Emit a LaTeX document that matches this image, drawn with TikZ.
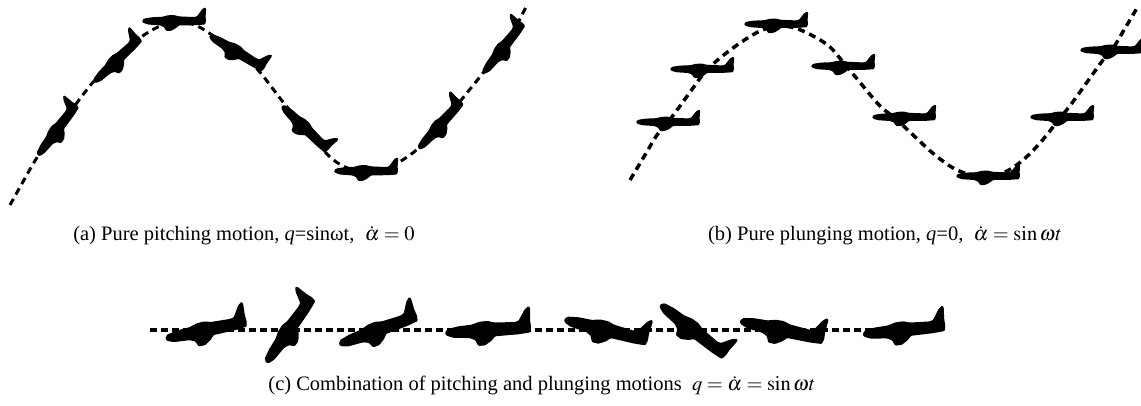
\documentclass[tikz,border=0pt]{standalone}
\usepackage{mathptmx}
\usepackage{fontspec}
\setmainfont{Liberation Serif}
\begin{document}
\begin{tikzpicture}[x=1pt,y=-1pt,
  % aircraft silhouette: nose to the left, fin up, about 64pt long
  aircraft/.pic={
    \begin{scope}[x=1pt,y=1pt]
      \fill[rounded corners=0.9pt]
        (-32,0) -- (-30,2.2) -- (-22,3.4) -- (-12,3.8) -- (-6,5.2) -- (0,5.4)
        -- (5,4.2) -- (20,3.6) -- (23,4.2) -- (28,10.5) -- (31,12.5) -- (32.2,11.5)
        -- (31.6,4) -- (32,0) -- (31,-3.2) -- (22,-3.8) -- (5,-4) -- (2,-6.5)
        -- (-3,-9) -- (-8,-9) -- (-10,-5.5) -- (-14,-4) -- (-26,-3.2) -- (-31,-1.6)
        -- cycle;
    \end{scope}
  },
  pathA/.style={line width=3pt, dash pattern=on 7pt off 5pt},
  pathB/.style={line width=3.5pt, dash pattern=on 7pt off 5pt},
  pathC/.style={line width=3.4pt, dash pattern=on 7pt off 4pt},
  caption/.style={font=\fontsize{20.5}{24}\selectfont, inner sep=0pt, anchor=base}
]
\useasboundingbox[fill=white] (0,0) rectangle (1141,405);

% (a) pure pitching: attitude follows the path
\draw[pathA] plot[smooth, tension=0.55] coordinates {
  (10,205) (24,180) (38,156) (57,130) (76,104) (95,80) (117,60) (140,38)
  (158,27) (174,22) (195,25) (215,37) (237,52) (258,70) (283,102) (305,128)
  (328,155) (345,167) (366,172) (388,168) (410,155) (425,142) (440,125)
  (462,99) (483,73) (503,48) (515,28) (526,7)};
\pic[rotate=53, yscale=1.25] at (57,130) {aircraft};
\pic[rotate=44, yscale=1.25] at (117,60) {aircraft};
\pic[yscale=1.1] at (174,21) {aircraft};
\pic[rotate=-31, yscale=1.25] at (237,52) {aircraft};
\pic[rotate=-44, yscale=1.25] at (305,128) {aircraft};
\pic[yscale=1.1] at (366,171) {aircraft};
\pic[rotate=48, yscale=1.25] at (440,125) {aircraft};
\pic[rotate=52, yscale=1.25] at (503,48) {aircraft};

% (b) pure plunging: attitude stays level
\draw[pathB] plot[smooth, tension=0.55] coordinates {
  (630,180) (645,155) (657,135) (668,122) (680,106) (693,88) (705,72) (720,58)
  (740,43) (758,32) (776,26) (795,28) (815,37) (830,47) (843,62) (858,80)
  (880,106) (895,118) (912,134) (935,155) (957,170) (982,177) (1005,172)
  (1023,160) (1040,143) (1057,122) (1072,103) (1090,78) (1103,60) (1112,50)
  (1124,30) (1137,8)};
\pic at (668,122) {aircraft};
\pic at (702,69) {aircraft};
\pic at (776,24) {aircraft};
\pic at (843,66) {aircraft};
\pic at (904,117) {aircraft};
\pic at (988,176) {aircraft};
\pic at (1062,117) {aircraft};
\pic at (1112,50) {aircraft};

% (c) combined motion: level path, varying attitude
\coordinate (cstart) at (150,330);
\coordinate (cend) at (940,330);
\draw[pathC] (cstart) -- (cend);
\pic[rotate=12, scale=1.3, yscale=1.25] at (206,330) {aircraft};
\pic[rotate=55, scale=1.25, yscale=1.25] at (289,330) {aircraft};
\pic[rotate=20, scale=1.3, yscale=1.25] at (378,330) {aircraft};
\pic[rotate=4, scale=1.35, yscale=1.25] at (488,330) {aircraft};
\pic[rotate=-14, scale=1.35, yscale=1.25] at (606,330) {aircraft};
\pic[rotate=-38, scale=1.3, yscale=1.25] at (693,330) {aircraft};
\pic[rotate=-12, scale=1.35, yscale=1.25] at (782,330) {aircraft};
\pic[rotate=6, scale=1.3, yscale=1.25] at (904,330) {aircraft};

% captions
\node[caption] (capA) at (244,240) {(a) Pure pitching motion, \textit{q}=sinωt,\ \ $\dot{\alpha}=0$};
\node[caption] (capB) at (885,240) {(b) Pure plunging motion, \textit{q}=0,\ \ $\dot{\alpha}=\sin\omega t$};
\node[caption] (capC) at (542,390) {(c) Combination of pitching and plunging motions\ \ $q=\dot{\alpha}=\sin\omega t$};
\end{tikzpicture}
\end{document}
